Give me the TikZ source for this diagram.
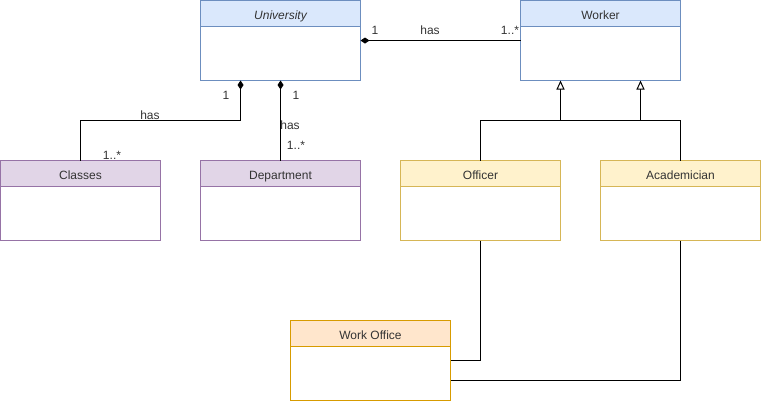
\documentclass[tikz,border=0pt]{standalone}
\usepackage{fontspec}
\setmainfont{Liberation Sans}
\usetikzlibrary{arrows.meta}
\definecolor{bluefill}{HTML}{DAE8FC}
\definecolor{bluedraw}{HTML}{6C8EBF}
\definecolor{purplefill}{HTML}{E1D5E7}
\definecolor{purpledraw}{HTML}{9673A6}
\definecolor{yellowfill}{HTML}{FFF2CC}
\definecolor{yellowdraw}{HTML}{D6B656}
\definecolor{orangefill}{HTML}{FFE6CC}
\definecolor{orangedraw}{HTML}{D79B00}
\definecolor{txt}{HTML}{333333}
\tikzset{
  classbox/.style={rectangle, minimum width=160pt, minimum height=80pt, inner sep=0pt, outer sep=0pt},
  classtitle/.style={font=\fontsize{12}{14}\selectfont, text=txt, inner sep=0pt, text height=9pt, text depth=2.5pt},
  lbl/.style={font=\fontsize{12}{14}\selectfont, text=txt, inner sep=0pt, text height=9pt, text depth=2.5pt},
  conn/.style={line width=1pt, black},
  comp/.style={conn, {Diamond[length=9pt,width=6pt]}-},
  gen/.style={conn, -{Triangle[open,length=9pt,width=8pt]}},
}
\newcommand\umlclass[6]{%
  \node[classbox, anchor=north west] (#1) at (#2,#3) {};
  \fill[#5] (#1.north west) rectangle ([yshift=-26pt]#1.north east);
  \draw[#6, line width=1pt] (#1.north west) rectangle (#1.south east);
  \draw[#6, line width=1pt] ([yshift=-26pt]#1.north west) -- ([yshift=-26pt]#1.north east);
  \node[classtitle] (#1-t) at ([yshift=-15.5pt]#1.north) {#4};
}
\begin{document}
\begin{tikzpicture}[x=1pt,y=-1pt]
\useasboundingbox (0,0) rectangle (761,402);
\umlclass{univ}{200.5}{0.5}{\itshape University}{bluefill}{bluedraw}
\umlclass{worker}{520.5}{0.5}{Worker}{bluefill}{bluedraw}
\umlclass{classes}{0.5}{160.5}{Classes}{purplefill}{purpledraw}
\umlclass{dept}{200.5}{160.5}{Department}{purplefill}{purpledraw}
\umlclass{officer}{400.5}{160.5}{Officer}{yellowfill}{yellowdraw}
\umlclass{acad}{600.5}{160.5}{Academician}{yellowfill}{yellowdraw}
\umlclass{office}{290.5}{320.5}{Work Office}{orangefill}{orangedraw}

% University -- Worker
\draw[comp] (univ.east) -- (worker.west);
\node[lbl] (l1) at (375,31.5) {1};
\node[lbl] (l2) at (430,31.5) {has};
\node[lbl] (l3) at (510,31.5) {1..*};

% University -- Classes
\draw[comp] ([xshift=-40pt]univ.south) -- ++(0,40) -| (classes.north);
\node[lbl] (l4) at (226,96.5) {1};
\node[lbl] (l5) at (150,116.5) {has};
\node[lbl] (l6) at (112,156.5) {1..*};

% University -- Department
\draw[comp] (univ.south) -- (dept.north);
\node[lbl] (l7) at (296,96.5) {1};
\node[lbl] (l8) at (290,126.5) {has};
\node[lbl] (l9) at (296,146.5) {1..*};

% Generalisations
\draw[gen] (officer.north) -- ++(0,-40) -| ([xshift=40pt]worker.south);
\draw[gen] (acad.north) -- ++(0,-40) -| ([xshift=-40pt]worker.south);

% Work Office links
\draw[conn] (officer.south) |- (office.east);
\draw[conn] (acad.south) |- ([yshift=-20pt]office.east);
\end{tikzpicture}
\end{document}
